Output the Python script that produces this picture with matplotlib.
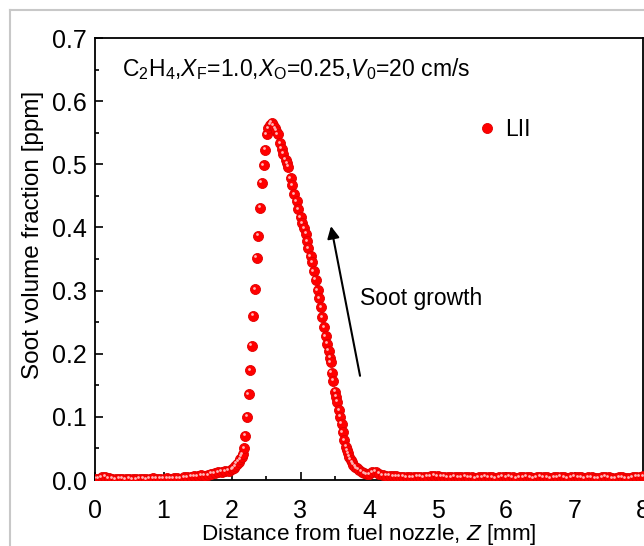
import matplotlib
matplotlib.use("Agg")
import matplotlib.pyplot as plt
import matplotlib.transforms as mtransforms
from matplotlib.lines import Line2D
from matplotlib.ticker import MultipleLocator

plt.rcParams['font.family'] = ['Liberation Sans', 'DejaVu Sans']
plt.rcParams['mathtext.fontset'] = 'custom'
plt.rcParams['mathtext.rm'] = 'Liberation Sans'
plt.rcParams['mathtext.it'] = 'Liberation Sans:italic'

# ---- data: LII soot volume fraction along the axis ----
z_left = [0.00, 0.05, 0.10, 0.15, 0.20, 0.25, 0.30, 0.35, 0.40, 0.45, 0.50, 0.55,
          0.60, 0.65, 0.70, 0.75, 0.80, 0.85, 0.90, 0.95, 1.00, 1.05, 1.10, 1.15,
          1.20, 1.25, 1.30, 1.35, 1.40, 1.45, 1.50, 1.55, 1.60, 1.65, 1.70, 1.75,
          1.80, 1.85, 1.90, 1.95]
f_left = [0.002, 0.002, 0.004, 0.005, 0.003, 0.002, 0.001, 0.002, 0.002, 0.001, 0.002, 0.001,
          0.001, 0.002, 0.002, 0.001, 0.002, 0.003, 0.002, 0.002, 0.002, 0.003, 0.002, 0.003,
          0.003, 0.002, 0.004, 0.004, 0.005, 0.006, 0.006, 0.008, 0.007, 0.008, 0.010, 0.011,
          0.012, 0.013, 0.014, 0.015]

z_peak = [2.000, 2.025, 2.050, 2.070, 2.095, 2.117, 2.140, 2.155, 2.175, 2.197, 2.220,
          2.243, 2.266, 2.290, 2.313, 2.337, 2.361, 2.386, 2.411, 2.436, 2.461, 2.485,
          2.508, 2.532, 2.556, 2.580, 2.603, 2.627, 2.647, 2.667, 2.701, 2.725, 2.749,
          2.784, 2.805, 2.822, 2.857, 2.880, 2.909, 2.945, 2.968, 3.003, 3.026, 3.055,
          3.080, 3.097, 3.114, 3.149, 3.172, 3.193, 3.222, 3.251, 3.274, 3.299, 3.318,
          3.343, 3.368, 3.391, 3.412, 3.431, 3.441, 3.455, 3.474, 3.504, 3.520, 3.537,
          3.562, 3.581, 3.602, 3.616, 3.639, 3.664, 3.680, 3.698, 3.715, 3.733, 3.752,
          3.771, 3.795, 3.820, 3.850, 3.893, 3.930, 3.966]
f_peak = [0.017, 0.019, 0.022, 0.026, 0.029, 0.033, 0.037, 0.041, 0.050, 0.070, 0.100,
          0.136, 0.174, 0.213, 0.260, 0.302, 0.352, 0.387, 0.431, 0.471, 0.499, 0.523,
          0.548, 0.557, 0.563, 0.566, 0.562, 0.557, 0.553, 0.548, 0.533, 0.525, 0.517,
          0.507, 0.502, 0.496, 0.478, 0.467, 0.453, 0.442, 0.429, 0.416, 0.407, 0.399,
          0.390, 0.378, 0.367, 0.354, 0.345, 0.331, 0.317, 0.301, 0.288, 0.274, 0.258,
          0.242, 0.228, 0.216, 0.205, 0.194, 0.187, 0.170, 0.157, 0.140, 0.132, 0.124,
          0.111, 0.100, 0.089, 0.076, 0.063, 0.053, 0.047, 0.042, 0.037, 0.032, 0.028,
          0.024, 0.021, 0.019, 0.016, 0.013, 0.011, 0.0095]

z_right = [4.00, 4.05, 4.10, 4.15, 4.20, 4.25, 4.30, 4.35, 4.40, 4.45, 4.50, 4.55,
           4.60, 4.65, 4.70, 4.75, 4.80, 4.85, 4.90, 4.95, 5.00, 5.05, 5.10, 5.15,
           5.20, 5.25, 5.30, 5.35, 5.40, 5.45, 5.50, 5.55, 5.60, 5.65, 5.70, 5.75,
           5.80, 5.85, 5.90, 5.95, 6.00, 6.05, 6.10, 6.15, 6.20, 6.25, 6.30, 6.35,
           6.40, 6.45, 6.50, 6.55, 6.60, 6.65, 6.70, 6.75, 6.80, 6.85, 6.90, 6.95,
           7.00, 7.05, 7.10, 7.15, 7.20, 7.25, 7.30, 7.35, 7.40, 7.45, 7.50, 7.55,
           7.60, 7.65, 7.70, 7.75, 7.80, 7.85, 7.90, 7.95, 8.00]
f_right = [0.009, 0.012, 0.013, 0.010, 0.008, 0.007, 0.007, 0.006, 0.006, 0.005, 0.005, 0.004,
           0.004, 0.004, 0.005, 0.005, 0.004, 0.005, 0.006, 0.007, 0.006, 0.005, 0.005, 0.004,
           0.004, 0.005, 0.004, 0.004, 0.005, 0.004, 0.004, 0.003, 0.004, 0.004, 0.005, 0.004,
           0.004, 0.003, 0.004, 0.005, 0.004, 0.005, 0.004, 0.003, 0.004, 0.004, 0.005, 0.004,
           0.003, 0.004, 0.005, 0.004, 0.004, 0.003, 0.004, 0.004, 0.005, 0.004, 0.003, 0.004,
           0.005, 0.004, 0.004, 0.003, 0.004, 0.004, 0.003, 0.003, 0.004, 0.005, 0.004, 0.003,
           0.003, 0.004, 0.004, 0.003, 0.003, 0.004, 0.005, 0.005, 0.006]

z_data = z_left + z_peak + z_right
f_data = f_left + f_peak + f_right

x_ticks = [0, 1, 2, 3, 4, 5, 6, 7, 8]
y_ticks = [0.0, 0.1, 0.2, 0.3, 0.4, 0.5, 0.6, 0.7]

fig = plt.figure(figsize=(6.44, 5.46), dpi=100)
ax = fig.add_axes([95/644, 66/546, 548/644, 442/546])

ax.plot(z_data, f_data, linestyle='none', marker='o', ms=7.2,
        mfc='#ff0000', mec='#e00000', mew=0.6, label='LII', zorder=3)
hl = mtransforms.offset_copy(ax.transData, fig=fig, x=-1.4, y=1.4, units='dots')
ax.plot(z_data, f_data, linestyle='none', marker='o', ms=2.0,
        mfc='#ffb8b8', mec='none', transform=hl, zorder=4)

ax.set_xlim(0, 8)
ax.set_ylim(0, 0.7)
ax.set_xticks(x_ticks)
ax.set_yticks(y_ticks)
ax.set_yticklabels([f"{v:.1f}" for v in y_ticks])
ax.xaxis.set_minor_locator(MultipleLocator(0.5))
ax.yaxis.set_minor_locator(MultipleLocator(0.05))
ax.tick_params(which='both', direction='in', top=False, right=False, width=1.2)
ax.tick_params(which='major', length=6, labelsize=18)
ax.tick_params(which='minor', length=3)
ax.tick_params(axis='x', pad=14)
ax.tick_params(axis='y', pad=6)
for s in ax.spines.values():
    s.set_linewidth(1.3)

ax.set_xlabel(r'Distance from fuel nozzle, $\mathit{Z}$ [mm]', fontsize=16.2, va='center')
ax.xaxis.set_label_coords(0.5, -0.1222)
ax.set_ylabel('Soot volume fraction [ppm]', fontsize=17.5)
ax.yaxis.set_label_coords(-0.093, 0.554)

ax.text(0.05, 0.96,
        r'C$_2$H$_4$,$X_\mathrm{F}$=1.0,$X_\mathrm{O}$=0.25,$V_0$=20 cm/s',
        transform=ax.transAxes, fontsize=16.5, va='top', ha='left')

leg = ax.legend(loc='upper left', bbox_to_anchor=(0.661, 0.865), frameon=False,
                fontsize=16.5, handlelength=0.8, handletextpad=0.4, markerscale=1.0)

ax.annotate('', xy=(3.445, 0.402), xytext=(3.869, 0.165),
            arrowprops=dict(arrowstyle='-|>', color='black', lw=1.5,
                            mutation_scale=18, shrinkA=0, shrinkB=0))
ax.text(3.87, 0.287, 'Soot growth', fontsize=16.5, va='center', ha='left')

fig.add_artist(Line2D([10/644, 10/644], [0, 1 - 10/546], color='#c8c8c8', lw=1.5))
fig.add_artist(Line2D([10/644, 1], [1 - 10/546, 1 - 10/546], color='#c8c8c8', lw=1.5))

fig.savefig('out.png', dpi=100)
